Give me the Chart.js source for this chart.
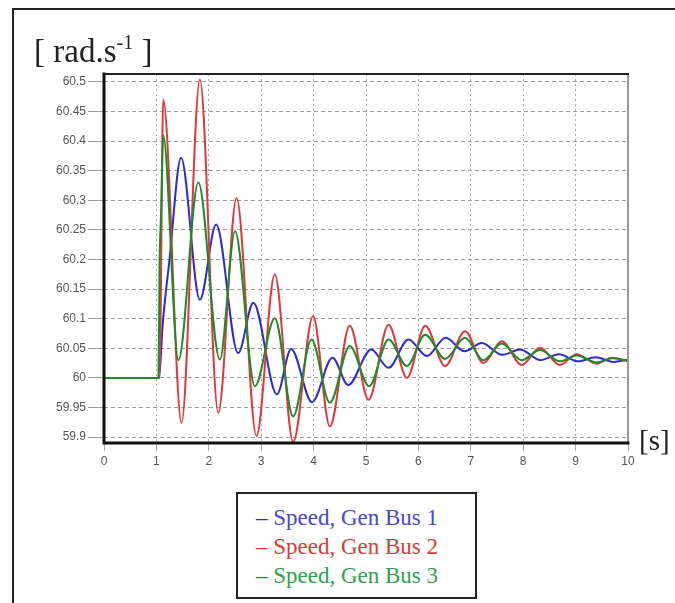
<!DOCTYPE html>
<html lang="en">
<head>
    <meta charset="UTF-8">
    <title>Generator Speed</title>
    <script src="https://cdn.jsdelivr.net/npm/chart.js"></script>
    <style>
        body {
            margin: 0;
            background: #fff;
        }

        #wrap {
            position: relative;
            width: 675px;
            height: 603px;
            overflow: hidden;
            background: #fff;
        }

        /* outer frame, only left and top edges are visible */
        .frame {
            position: absolute;
            left: 12px;
            top: 8px;
            width: 720px;
            height: 720px;
            border: 2px solid #222;
        }

        canvas {
            position: absolute;
            left: 0;
            top: 0;
        }

        .unit {
            position: absolute;
            font-family: "Liberation Serif", "Times New Roman", serif;
            color: #222;
            white-space: nowrap;
        }

        #unitY { left: 34px; top: 22px; font-size: 33px; line-height: 40px; }
        #unitY sup { font-size: 20px; vertical-align: 13px; }
        #unitX { left: 639px; top: 424px; font-size: 29px; }

        #legend {
            position: absolute;
            left: 236px;
            top: 492px;
            width: 241px;
            height: 107px;
            border: 2px solid #222;
            background: #fff;
            font-family: "Liberation Serif", "Times New Roman", serif;
            font-size: 23px;
            line-height: 29px;
            padding-top: 9px;
            box-sizing: border-box;
            white-space: nowrap;
        }

        #legend div { padding-left: 18px; }
    </style>
</head>
<body>

<div id="wrap">
    <div class="frame"></div>
    <canvas id="speedChart" width="675" height="603"></canvas>
    <div class="unit" id="unitY">[ rad.s<sup>-1</sup> ]</div>
    <div class="unit" id="unitX">[s]</div>
    <div id="legend"></div>
</div>

<script>
    // ** Data (time in s, speed in rad/s) **
    let seriesLabels = ["Speed, Gen Bus 1", "Speed, Gen Bus 2", "Speed, Gen Bus 3"];
    let lineColors = ["#2b2bd0", "#e0383a", "#1f8a2a"];
    let textColors = ["#4848c8", "#d83a3a", "#2fa050"];

    let bus1Time  = [0, 1.05, 1.12, 1.25, 1.47, 1.83, 2.14, 2.56, 2.85, 3.30, 3.57, 3.97, 4.36, 4.66, 5.10, 5.43, 5.81, 6.16, 6.52, 6.88, 7.21, 7.60, 7.94, 8.33, 8.68, 9.05, 9.38, 9.72, 10];
    let bus1Speed = [60, 60, 60.09, 60.2, 60.372, 60.132, 60.259, 60.042, 60.127, 59.972, 60.049, 59.959, 60.034, 59.988, 60.048, 60.017, 60.065, 60.037, 60.068, 60.045, 60.059, 60.039, 60.048, 60.030, 60.040, 60.028, 60.035, 60.027, 60.031];

    let bus2Time  = [0, 1.06, 1.13, 1.48, 1.83, 2.18, 2.53, 2.91, 3.26, 3.61, 3.99, 4.31, 4.69, 5.05, 5.43, 5.78, 6.13, 6.51, 6.89, 7.24, 7.59, 7.97, 8.32, 8.70, 9.02, 9.40, 9.70, 10];
    let bus2Speed = [60, 60, 60.47, 59.924, 60.504, 59.941, 60.304, 59.902, 60.175, 59.892, 60.104, 59.918, 60.088, 59.963, 60.09, 60.0, 60.088, 60.02, 60.079, 60.025, 60.062, 60.022, 60.051, 60.022, 60.04, 60.024, 60.034, 60.028];

    let bus3Time  = [0, 1.04, 1.06, 1.09, 1.13, 1.42, 1.80, 2.21, 2.50, 2.88, 3.26, 3.61, 3.96, 4.31, 4.69, 5.06, 5.43, 5.78, 6.13, 6.51, 6.89, 7.24, 7.59, 7.97, 8.32, 8.70, 9.02, 9.40, 9.70, 10];
    let bus3Speed = [60, 60, 60.19, 60.28, 60.41, 60.03, 60.33, 60.031, 60.248, 59.986, 60.101, 59.935, 60.065, 59.958, 60.054, 59.986, 60.065, 60.02, 60.073, 60.032, 60.068, 60.03, 60.058, 60.03, 60.047, 60.028, 60.038, 60.026, 60.033, 60.029];

    let xTicks = [0, 1, 2, 3, 4, 5, 6, 7, 8, 9, 10];
    let yTicks = [59.9, 59.95, 60, 60.05, 60.1, 60.15, 60.2, 60.25, 60.3, 60.35, 60.4, 60.45, 60.5];

    let allTimes = [bus1Time, bus2Time, bus3Time];
    let allSpeeds = [bus1Speed, bus2Speed, bus3Speed];

    // ** Frame round the plot area: heavy left/bottom, lighter top/right **
    const plotFrame = {
        id: "plotFrame",
        afterDraw(chart) {
            const { ctx, chartArea: a } = chart;
            ctx.save();
            ctx.lineCap = "square";
            ctx.strokeStyle = "#9a9a9a";
            ctx.lineWidth = 2;
            ctx.beginPath();
            ctx.moveTo(a.right, a.top);
            ctx.lineTo(a.right, a.bottom);
            ctx.stroke();
            ctx.strokeStyle = "#222";
            ctx.beginPath();
            ctx.moveTo(a.left, a.top);
            ctx.lineTo(a.right, a.top);
            ctx.stroke();
            ctx.strokeStyle = "#111";
            ctx.lineWidth = 3;
            ctx.beginPath();
            ctx.moveTo(a.left, a.top);
            ctx.lineTo(a.left, a.bottom);
            ctx.lineTo(a.right, a.bottom);
            ctx.stroke();
            ctx.restore();
        }
    };

    const tickFont = { family: "'Liberation Sans', Arial, sans-serif", size: 12 };

    let ctx = document.getElementById("speedChart").getContext("2d");
    new Chart(ctx, {
        type: "line",
        data: {
            datasets: seriesLabels.map((label, i) => ({
                label: label,
                data: allTimes[i].map((t, k) => ({ x: t, y: allSpeeds[i][k] })),
                borderColor: lineColors[i],
                borderWidth: 2,
                pointRadius: 0,
                fill: false,
                cubicInterpolationMode: "monotone",
                order: 3 - i   // bus 3 drawn on top
            }))
        },
        options: {
            responsive: false,
            animation: false,
            layout: { padding: { left: 44, right: 47, top: 74, bottom: 130 } },
            plugins: {
                legend: { display: false },
                tooltip: { enabled: false }
            },
            scales: {
                x: {
                    type: "linear",
                    min: 0,
                    max: 10,
                    afterBuildTicks: s => { s.ticks = xTicks.map(v => ({ value: v })); },
                    afterFit: s => { s.height = 30; },
                    grid: { color: "#a8a8a8", tickColor: "#a8a8a8", tickLength: 8, lineWidth: 1 },
                    border: { display: false, dash: [2, 3] },
                    ticks: { color: "#555", font: tickFont, padding: 3, maxRotation: 0, callback: v => String(v) }
                },
                y: {
                    min: 59.89,
                    max: 60.5135,
                    afterBuildTicks: s => { s.ticks = yTicks.map(v => ({ value: v })); },
                    afterFit: s => { s.width = 60; },
                    grid: { color: "#9a9a9a", tickColor: "#9a9a9a", tickLength: 16, lineWidth: 1 },
                    border: { display: false, dash: [4, 3] },
                    ticks: { color: "#555", font: tickFont, padding: 2, callback: v => String(v) }
                }
            }
        },
        plugins: [plotFrame]
    });

    // ** Boxed legend under the plot **
    let legend = document.getElementById("legend");
    seriesLabels.forEach((label, i) => {
        let row = document.createElement("div");
        row.innerHTML = '<span style="color:' + lineColors[i] + '">\u2013</span> ' + label;
        row.style.color = textColors[i];
        legend.appendChild(row);
    });
</script>

</body>
</html>
